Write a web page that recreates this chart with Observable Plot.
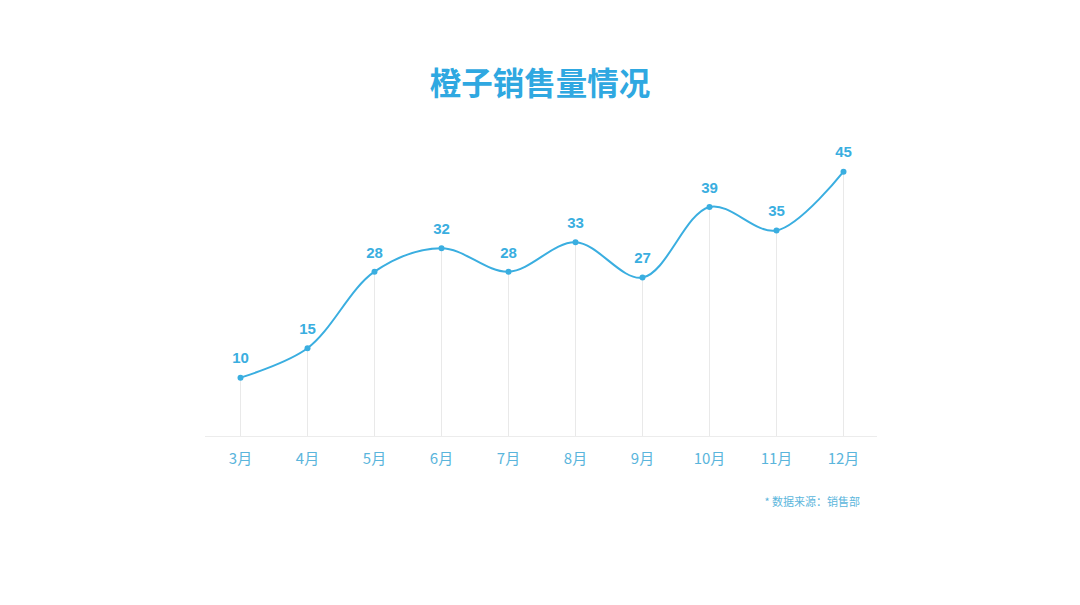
<!DOCTYPE html>
<html>
<head>
<meta charset="utf-8">
<script src="https://cdn.jsdelivr.net/npm/d3@7"></script>
<script src="https://cdn.jsdelivr.net/npm/@observablehq/plot@0.6"></script>
<style>
  html, body { margin: 0; padding: 0; background: #ffffff; }
  #wrap { position: relative; width: 1080px; height: 605px; overflow: hidden; font-family: "Noto Sans CJK SC", "Noto Sans", sans-serif; }
  #title { position: absolute; left: 0; width: 1080px; top: 58px; text-align: center; font-size: 31.5px; font-weight: 700; color: #2fa8e1; }
  #source { position: absolute; right: 220px; top: 493px; font-size: 11px; color: #5bb6dc; }
  #chart { position: absolute; left: 0; top: 0; }
</style>
</head>
<body>
<div id="wrap">
  <div id="chart"></div>
  <div id="title">橙子销售量情况</div>
  <div id="source">* 数据来源：销售部</div>
</div>
<script>
const months = ["3月", "4月", "5月", "6月", "7月", "8月", "9月", "10月", "11月", "12月"];
const sales = [10, 15, 28, 32, 28, 33, 27, 39, 35, 45];

const data = months.map((m, i) => ({month: m, value: sales[i]}));
const blue = "#3aaee0";

const chart = Plot.plot({
  width: 1080,
  height: 605,
  marginLeft: 205,
  marginRight: 203,
  marginTop: 0,
  marginBottom: 0,
  style: {background: "transparent", fontFamily: "'Noto Sans CJK SC', 'Noto Sans', sans-serif"},
  x: {type: "point", domain: months, range: [239, 843], padding: 0, axis: null},
  y: {domain: [0, 50], range: [436, 141.7], axis: null},
  marks: [
    Plot.ruleY([0], {stroke: "#ececec", strokeWidth: 1.2}),
    Plot.ruleX(data, {x: "month", y1: 0, y2: "value", stroke: "#e9e9e9", strokeWidth: 1}),
    Plot.line(data, {x: "month", y: "value", curve: "catmull-rom", stroke: blue, strokeWidth: 2}),
    Plot.dot(data, {x: "month", y: "value", r: 3, fill: blue, stroke: "none"}),
    Plot.text(data, {x: "month", y: "value", text: d => String(d.value), dy: -19, fill: blue, fontSize: 15, fontWeight: 700, fontFamily: "'Liberation Sans', Arial, sans-serif"}),
    Plot.text(data, {x: "month", y: 0, text: "month", dy: 23, fill: "#5ab5dc", fontSize: 15})
  ]
});
document.getElementById("chart").appendChild(chart);
</script>
</body>
</html>
